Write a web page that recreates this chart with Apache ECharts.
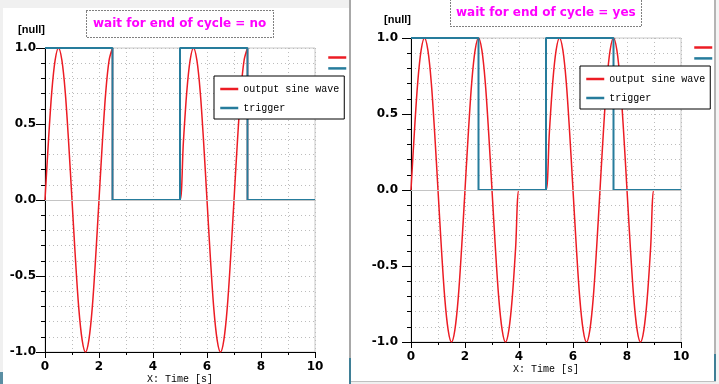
<!DOCTYPE html>
<html>
<head>
<meta charset="utf-8">
<script src="https://cdn.jsdelivr.net/npm/echarts@6/dist/echarts.min.js"></script>
<style>
  html, body { margin: 0; padding: 0; background: #ffffff; }
  #chart { width: 719px; height: 384px; }
</style>
</head>
<body>
<div id="chart"></div>
<script>
// ---- data ----
const seriesNames = ['output sine wave', 'trigger'];
const titles = ['wait for end of cycle = no', 'wait for end of cycle = yes'];

// left chart: wait for end of cycle = no
const timeNo = [0,0.125,0.25,0.375,0.5,0.625,0.75,0.875,1,1.125,1.25,1.375,1.5,1.625,1.75,1.875,2,2.125,2.25,2.375,2.5,
  2.5,2.625,2.75,2.875,3,3.125,3.25,3.375,3.5,3.625,3.75,3.875,4,4.125,4.25,4.375,4.5,4.625,4.75,4.875,
  5,5.125,5.25,5.375,5.5,5.625,5.75,5.875,6,6.125,6.25,6.375,6.5,6.625,6.75,6.875,7,7.125,7.25,7.375,7.5,
  7.5,7.625,7.75,7.875,8,8.125,8.25,8.375,8.5,8.625,8.75,8.875,9,9.125,9.25,9.375,9.5,9.625,9.75,9.875,10];
const sineNo = [0,0.38,0.71,0.92,1,0.92,0.71,0.38,0,-0.38,-0.71,-0.92,-1,-0.92,-0.71,-0.38,0,0.38,0.71,0.92,1,
  0,0,0,0,0,0,0,0,0,0,0,0,0,0,0,0,0,0,0,0,
  0,0.38,0.71,0.92,1,0.92,0.71,0.38,0,-0.38,-0.71,-0.92,-1,-0.92,-0.71,-0.38,0,0.38,0.71,0.92,1,
  0,0,0,0,0,0,0,0,0,0,0,0,0,0,0,0,0,0,0,0,0];

// right chart: wait for end of cycle = yes
const timeYes = [0,0.125,0.25,0.375,0.5,0.625,0.75,0.875,1,1.125,1.25,1.375,1.5,1.625,1.75,1.875,
  2,2.125,2.25,2.375,2.5,2.625,2.75,2.875,3,3.125,3.25,3.375,3.5,3.625,3.75,3.875,
  4,4.125,4.25,4.375,4.5,4.625,4.75,4.875,5,5.125,5.25,5.375,5.5,5.625,5.75,5.875,
  6,6.125,6.25,6.375,6.5,6.625,6.75,6.875,7,7.125,7.25,7.375,7.5,7.625,7.75,7.875,
  8,8.125,8.25,8.375,8.5,8.625,8.75,8.875,9,9.125,9.25,9.375,9.5,9.625,9.75,9.875,10];
const sineYes = [0,0.38,0.71,0.92,1,0.92,0.71,0.38,0,-0.38,-0.71,-0.92,-1,-0.92,-0.71,-0.38,
  0,0.38,0.71,0.92,1,0.92,0.71,0.38,0,-0.38,-0.71,-0.92,-1,-0.92,-0.71,-0.38,
  0,0,0,0,0,0,0,0,0,0.38,0.71,0.92,1,0.92,0.71,0.38,
  0,-0.38,-0.71,-0.92,-1,-0.92,-0.71,-0.38,0,0.38,0.71,0.92,1,0.92,0.71,0.38,
  0,-0.38,-0.71,-0.92,-1,-0.92,-0.71,-0.38,0,0,0,0,0,0,0,0,0];

// trigger (step signal)
const trigTime = [0, 2.5, 5, 7.5, 10];
const trigNo = [1, 0, 1, 0, 0];
const trigYes = [1, 0, 1, 0, 0];

// ---- styles ----
const RED = '#ec1c24';
const TEAL = '#267c9c';
const GRIDC = '#bcbcbc';
const zip = (a, b) => a.map((v, i) => [v, b[i]]);

const chart = echarts.init(document.getElementById('chart'), null, { renderer: 'canvas' });

const grids = [
  { left: 45, top: 48, width: 270, height: 304 },
  { left: 411, top: 38, width: 270, height: 304 }
];

function xAxis(i) {
  return {
    gridIndex: i, type: 'value', min: 0, max: 10, interval: 2,
    axisLine: { show: true, onZero: false, lineStyle: { color: '#000', width: 1 } },
    axisTick: { show: true, length: 6, lineStyle: { color: '#000' } },
    minorTick: { show: true, splitNumber: 2, length: 3, lineStyle: { color: '#000' } },
    axisLabel: { margin: 9, color: '#000', fontFamily: 'DejaVu Sans', fontWeight: 'bold', fontSize: 12 },
    splitLine: { show: true, lineStyle: { color: GRIDC, type: [1, 3] } },
    minorSplitLine: { show: true, lineStyle: { color: GRIDC, type: [1, 3] } },
    name: 'X: Time [s]', nameLocation: 'middle', nameGap: i === 0 ? 13 : 16, nameMoveOverlap: false,
    nameTextStyle: { color: '#000', fontFamily: 'Liberation Mono', fontSize: 10, lineHeight: 12,
      backgroundColor: '#fff', padding: [i === 0 ? 8 : 5, 2, 0, 2] }
  };
}
function yAxis(i) {
  return {
    gridIndex: i, type: 'value', min: -1, max: 1, interval: 0.5,
    axisLine: { show: true, onZero: false, lineStyle: { color: '#000', width: 1 } },
    axisTick: { show: true, length: 9, lineStyle: { color: '#000' } },
    minorTick: { show: true, splitNumber: 5, length: 4, lineStyle: { color: '#000' } },
    axisLabel: { margin: i === 0 ? 9 : 13, color: '#000', fontFamily: 'DejaVu Sans', fontWeight: 'bold', fontSize: 12,
      formatter: v => v.toFixed(1) },
    splitLine: { show: true, lineStyle: { color: GRIDC, type: [1, 3] } },
    minorSplitLine: { show: true, lineStyle: { color: GRIDC, type: [1, 3] } },
    name: '[null]', nameLocation: 'end', nameGap: 18, nameMoveOverlap: false,
    nameTextStyle: { color: '#000', fontFamily: 'Liberation Sans', fontWeight: 'bold', fontSize: 11,
      align: 'right', verticalAlign: 'middle', padding: 0 }
  };
}

function sineSeries(i, t, v) {
  return {
    name: seriesNames[0], type: 'line', xAxisIndex: i, yAxisIndex: i,
    data: zip(t, v), smooth: 0.33, symbol: 'none', showSymbol: false,
    lineStyle: { color: RED, width: 1.5 }, itemStyle: { color: RED }, z: 2,
    markLine: { silent: true, symbol: 'none', label: { show: false },
      lineStyle: { color: '#c4c4c4', type: 'solid', width: 1 }, data: [{ yAxis: 0 }] }
  };
}
function trigSeries(i, v) {
  return {
    name: seriesNames[1], type: 'line', xAxisIndex: i, yAxisIndex: i,
    data: zip(trigTime, v), step: 'end', symbol: 'none', showSymbol: false,
    lineStyle: { color: TEAL, width: 2 }, itemStyle: { color: TEAL }, z: 3
  };
}

const boxLegend = (left, top) => ({
  left: left, top: top, orient: 'vertical', padding: [8, 5, 6, 5], itemGap: 9,
  itemWidth: 18, itemHeight: 11, borderColor: '#000', borderWidth: 1, backgroundColor: '#fff',
  itemStyle: { opacity: 0 }, lineStyle: { width: 2.5 },
  textStyle: { color: '#000', fontFamily: 'Liberation Mono', fontSize: 10 },
  data: seriesNames, selectedMode: false
});
const lineLegend = (left, top) => ({
  left: left, top: top, orient: 'vertical', padding: 0, itemGap: 1,
  itemWidth: 18, itemHeight: 11, formatter: () => '',
  itemStyle: { opacity: 0 }, lineStyle: { width: 2.5 },
  textStyle: { fontSize: 1 }, data: seriesNames, selectedMode: false
});
const titleBox = (text, left, top, pad) => ({
  text: text, left: left, top: top, padding: pad,
  borderColor: '#000', borderWidth: 1, borderType: [1, 2],
  textStyle: { color: '#ff00ff', fontFamily: 'DejaVu Sans', fontWeight: 'bold', fontSize: 12, lineHeight: 14 }
});

const option = {
  backgroundColor: '#ffffff',
  animation: false,
  title: [titleBox(titles[0], 86, 10, [7, 7, 7, 7]), titleBox(titles[1], 450, -1, [7, 6, 7, 6])],
  legend: [boxLegend(214, 76), boxLegend(580, 66), lineLegend(327, 52), lineLegend(693, 42)],
  grid: grids.map(g => Object.assign({ show: true, borderColor: '#c8c8c8', borderWidth: 1,
    backgroundColor: 'transparent', containLabel: false, outerBoundsMode: 'none' }, g)),
  xAxis: [xAxis(0), xAxis(1)],
  yAxis: [yAxis(0), yAxis(1)],
  series: [
    sineSeries(0, timeNo, sineNo), trigSeries(0, trigNo),
    sineSeries(1, timeYes, sineYes), trigSeries(1, trigYes)
  ],
  graphic: [
    { type: 'rect', silent: true, z: -10, shape: { x: 0, y: 0, width: 350, height: 8 }, style: { fill: '#f0f0f0' } },
    { type: 'rect', silent: true, z: -10, shape: { x: 0, y: 0, width: 3, height: 384 }, style: { fill: '#f0f0f0' } },
    { type: 'rect', silent: true, z: -10, shape: { x: 0, y: 372, width: 3, height: 12 }, style: { fill: '#5a8ea3' } },
    { type: 'rect', silent: true, z: -10, shape: { x: 349, y: 0, width: 2, height: 384 }, style: { fill: '#a8a8a8' } },
    { type: 'rect', silent: true, z: -10, shape: { x: 349, y: 358, width: 2, height: 26 }, style: { fill: '#3f7f96' } },
    { type: 'rect', silent: true, z: -10, shape: { x: 714, y: 0, width: 2, height: 384 }, style: { fill: '#b4b4b4' } },
    { type: 'rect', silent: true, z: -10, shape: { x: 714, y: 354, width: 2, height: 28 }, style: { fill: '#3f7f96' } },
    { type: 'rect', silent: true, z: -10, shape: { x: 716, y: 0, width: 3, height: 384 }, style: { fill: '#f4f4f4' } },
    { type: 'rect', silent: true, z: -10, shape: { x: 351, y: 381, width: 365, height: 1 }, style: { fill: '#c0c0c0' } },
    { type: 'rect', silent: true, z: -10, shape: { x: 351, y: 382, width: 368, height: 2 }, style: { fill: '#f0f0f0' } }
  ]
};
chart.setOption(option);
</script>
</body>
</html>
